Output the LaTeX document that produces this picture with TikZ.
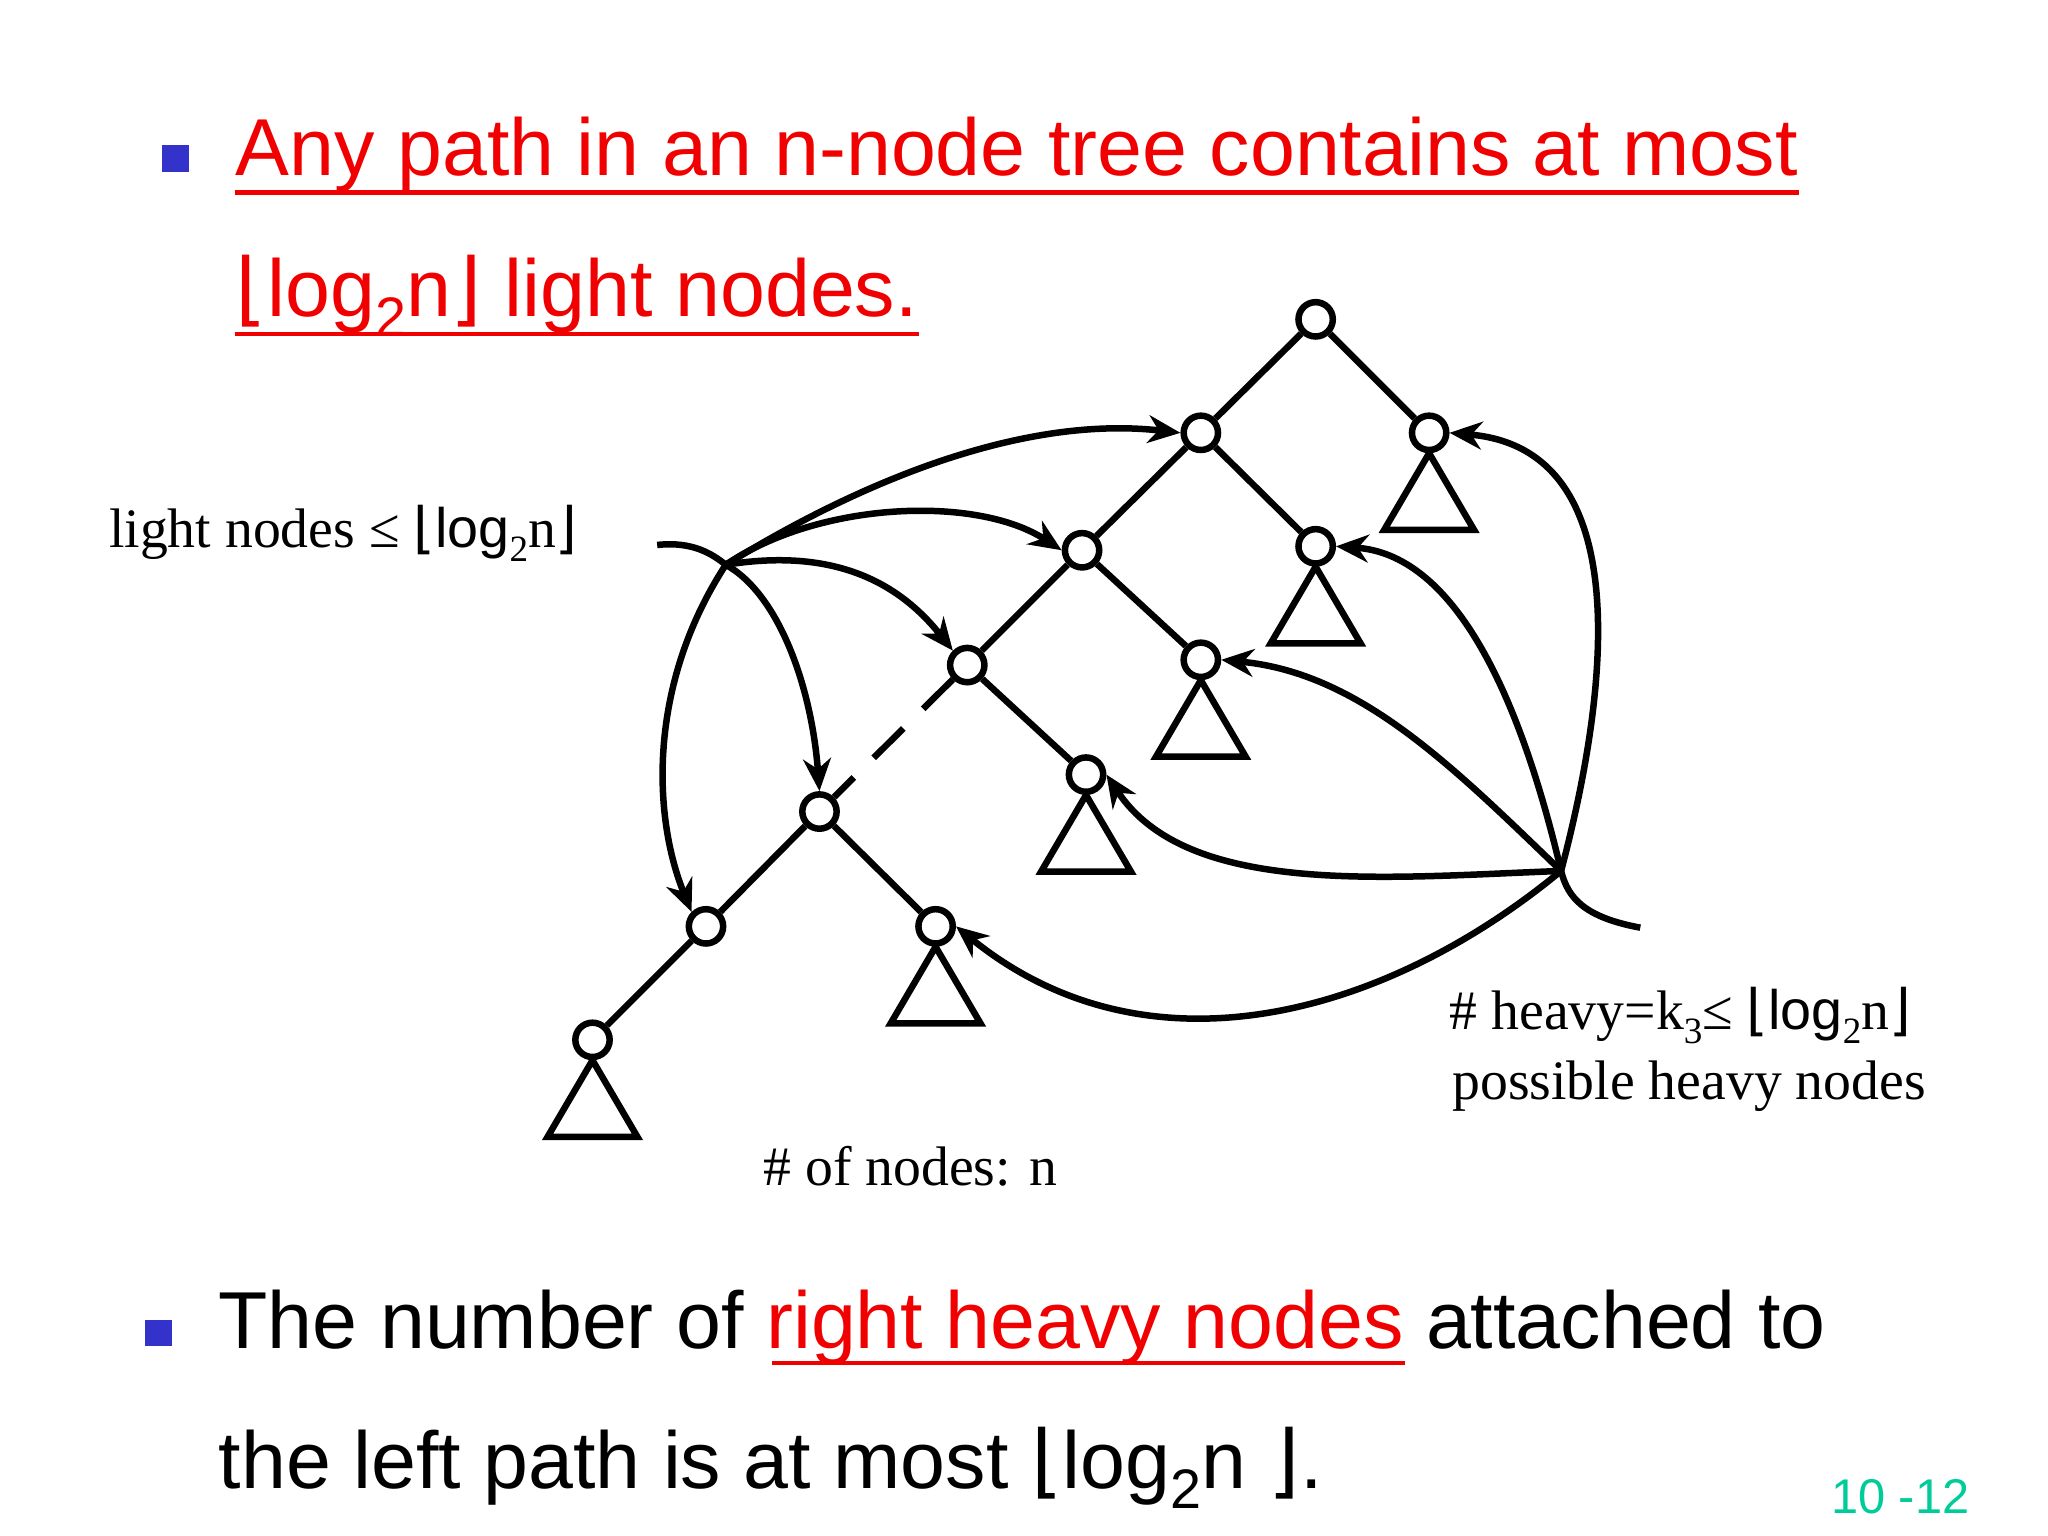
\documentclass[tikz,border=0pt]{standalone}
\usepackage{fontspec}
\setmainfont{Liberation Serif}
\newfontfamily\slide{Liberation Sans}
\newfontfamily\dv{DejaVu Sans}
\usetikzlibrary{arrows.meta}
\definecolor{slred}{RGB}{240,0,0}
\definecolor{slblue}{RGB}{51,51,204}
\definecolor{slgreen}{RGB}{0,204,153}
\begin{document}
\begin{tikzpicture}[x=0.01cm,y=-0.01cm,
  tn/.style={circle,draw,line width=1.4pt,minimum size=0.26cm,inner sep=0pt},
  ed/.style={line width=1.4pt},
  arr/.style={line width=1.4pt,-{Stealth[length=7pt,width=6pt]}},
  tri/.style={line width=1.4pt},
  big/.style={font=\slide\fontsize{17.4}{21}\selectfont,anchor=base west,inner sep=0pt},
  lab/.style={font=\fontsize{12}{15}\selectfont,anchor=base west,inner sep=0pt}]
\useasboundingbox (0,0) rectangle (1552,1164);
% bullets
\fill[slblue] (123,110) rectangle (143,130);
\fill[slblue] (110,1000) rectangle (130,1020);
% title
\node[big,text=slred] (t1) at (178,133) {Any path in an n-node tree contains at most};
\node[big,text=slred] (t2) at (178,240) {{\dv ⌊}log\raisebox{-0.25em}{\fontsize{12}{14}\selectfont 2}n{\dv ⌋} light nodes.};
\draw[slred,line width=1pt] (178,146) -- (t1.base east |- 0,146);
\draw[slred,line width=1pt] (178,253) -- (t2.base east |- 0,253);
\node[big] (b1) at (165,1022) {The number of \textcolor{slred}{right heavy nodes} attached to};
\draw[slred,line width=1pt] (585,1033) -- (1065,1033);
\node[big] (b2) at (165,1128) {the left path is at most {\dv ⌊}log\raisebox{-0.25em}{\fontsize{12}{14}\selectfont 2}n {\dv ⌋}.};
\node[font=\slide\fontsize{10.5}{13}\selectfont,text=slgreen,anchor=base west,inner sep=0pt] (pg) at (1387,1147) {10 -12};
% tree
\node[tn] (r) at (997,242) {};
\node[tn] (a) at (910,328) {};
\node[tn] (b) at (1083,328) {};
\node[tn] (c) at (820,417) {};
\node[tn] (d) at (997,414) {};
\node[tn] (e) at (733,504) {};
\node[tn] (f) at (910,500) {};
\node[tn] (g) at (823,587) {};
\node[tn] (h) at (621,615) {};
\node[tn] (i) at (535,702) {};
\node[tn] (j) at (709,702) {};
\node[tn] (k) at (449,788) {};
\draw[ed] (r)--(a) (r)--(b) (a)--(c) (a)--(d) (c)--(e) (c)--(f) (e)--(g) (h)--(i) (h)--(j) (i)--(k);
\draw[ed,dash pattern=on 9pt off 6pt] (e)--(h);
\foreach \n in {b,d,f,g,j,k}{
  \draw[tri] (\n.south) -- ++(-34,58) -- ++(68,0) -- cycle;
}
% light arrows
\coordinate (L) at (550,428);
\coordinate (L0) at (498,413);
\draw[ed] (L0) .. controls (525,410) and (540,420) .. (L);
\draw[arr] (L) .. controls (660,360) and (780,315) .. (a.west);
\draw[arr] (L) .. controls (620,380) and (740,375) .. (c.west);
\draw[arr] (L) .. controls (630,415) and (680,440) .. (e.north west);
\draw[arr] (L) .. controls (590,450) and (615,520) .. (h.north);
\draw[arr] (L) .. controls (490,520) and (495,620) .. (i.north west);
% heavy arrows
\coordinate (R) at (1183,660);
\coordinate (R0) at (1243,703);
\draw[ed] (R0) .. controls (1200,695) and (1188,680) .. (R);
\draw[arr] (R) .. controls (1220,520) and (1240,340) .. (b.east);
\draw[arr] (R) .. controls (1150,520) and (1100,420) .. (d.east);
\draw[arr] (R) .. controls (1100,580) and (1030,510) .. (f.east);
\draw[arr] (R) .. controls (1050,665) and (900,680) .. (g.east);
\draw[arr] (R) .. controls (1050,770) and (870,820) .. (j.east);
% labels
\node[lab] (ll) at (82,415) {light nodes ≤ {\dv ⌊}{\slide log}\raisebox{-0.25em}{\fontsize{8}{9}\selectfont 2}n{\dv ⌋}};
\node[lab] (hl) at (1098,780) {\# heavy=k\raisebox{-0.25em}{\fontsize{8}{9}\selectfont 3}≤ {\dv ⌊}{\slide log}\raisebox{-0.25em}{\fontsize{8}{9}\selectfont 2}n{\dv ⌋}};
\node[lab] (hl2) at (1100,833) {possible heavy nodes};
\node[lab] (nl) at (578,898) {\# of nodes: n};
\end{tikzpicture}
\end{document}
